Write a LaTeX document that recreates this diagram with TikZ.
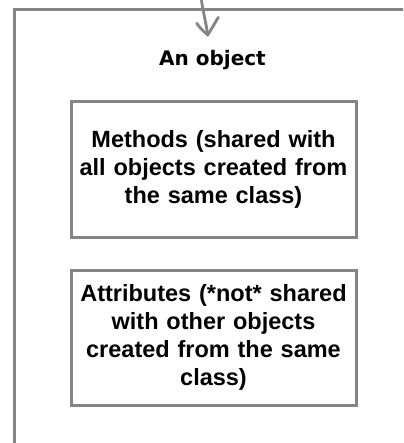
\documentclass[tikz,border=0pt]{standalone}
\usepackage{fontspec}
\setmainfont{Liberation Sans}
\newfontfamily\titlefont{DejaVu Sans}
\begin{document}
\begin{tikzpicture}[x=1pt,y=-1pt,
  frame/.style={draw=linegray,line width=3pt},
  inbox/.style={frame,minimum width=285pt,minimum height=135pt,inner sep=0pt,
    align=center,text width=280pt,font=\fontsize{23.5}{27.8}\selectfont\bfseries},
  titletext/.style={font=\titlefont\fontsize{20}{24}\selectfont\bfseries,text=black,inner sep=0pt},
  conn/.style={draw=linegray,line width=2.8pt,line cap=round,line join=round}]
\definecolor{linegray}{HTML}{858585}
\useasboundingbox (0,0) rectangle (403,443);
\clip (0,0) rectangle (403,443);
\fill[white] (0,0) rectangle (403,443);
% outer object frame (extends beyond the picture)
\draw[frame] (14,10) rectangle (430,470);
% title
\node[titletext,anchor=base] (title) at (212.5,66) {An object};
% inner boxes
\node[inbox] (methods) at (213.5,169.5) {Methods (shared with\\all objects created from\\the same class)};
\node[inbox] (attrs) at (213.5,337.5) {Attributes (*not* shared\\with other objects\\created from the same\\class)};
% incoming arrow
\coordinate (src) at (201,-3);
\coordinate (tip) at (207.7,35);
\draw[conn] (src) .. controls (203,12) and (206,22) .. (tip);
\draw[conn] (196.7,23.3) .. controls (201,29) .. (tip) .. controls (212,28) .. (218.3,17.3);
\end{tikzpicture}
\end{document}
